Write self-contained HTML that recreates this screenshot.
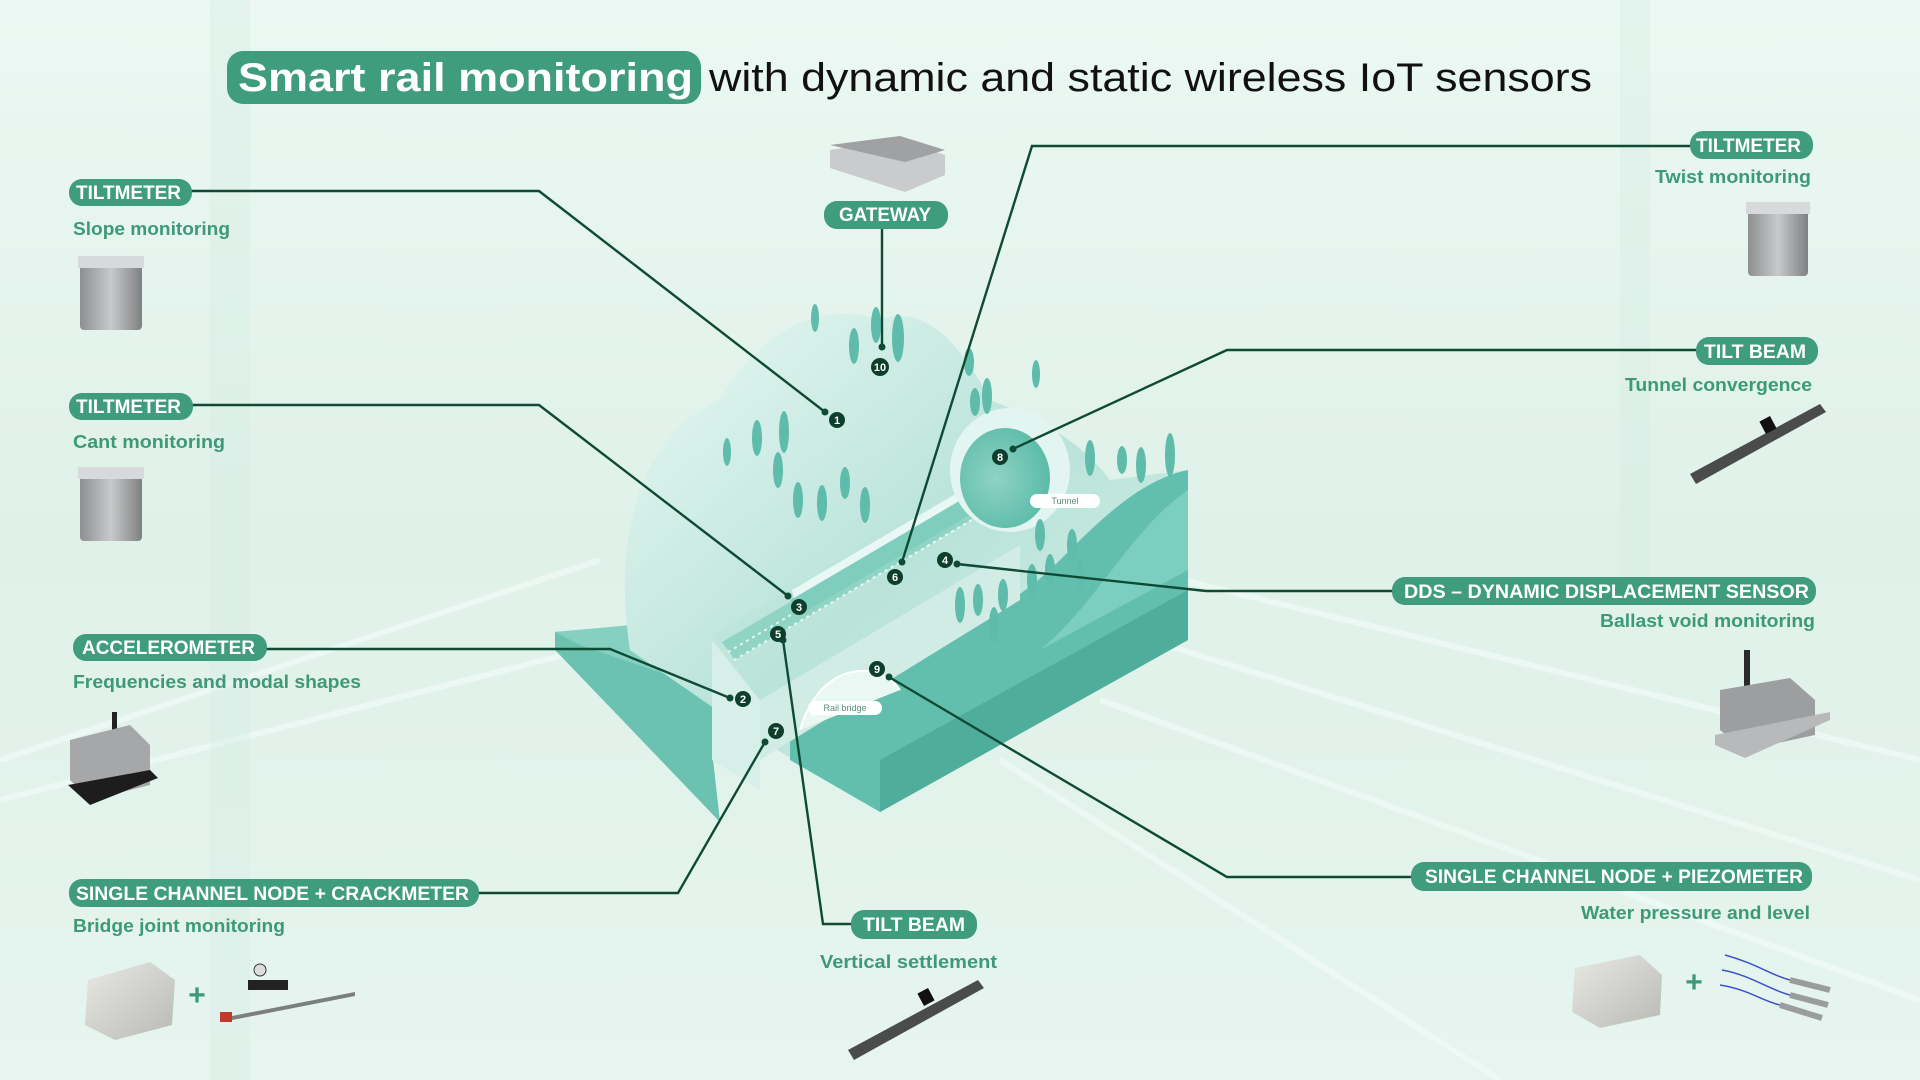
<!DOCTYPE html>
<html><head><meta charset="utf-8"><style>
html,body{margin:0;padding:0;width:1920px;height:1080px;overflow:hidden;background:#e4f4ed}
svg{display:block}
.pill{fill:#3f9c7d}
.pt{font-family:"Liberation Sans",sans-serif;font-weight:bold;fill:#fff;font-size:19px}
.sub{font-family:"Liberation Sans",sans-serif;font-weight:bold;fill:#3d9a79;font-size:18px}
.ln{stroke:#0f4a35;stroke-width:2.4;fill:none}
.num{font-family:"Liberation Sans",sans-serif;font-weight:bold;fill:#fff;font-size:11px;text-anchor:middle}
.tree{fill:#5fbcaa}
</style></head><body>
<svg width="1920" height="1080" viewBox="0 0 1920 1080" xmlns="http://www.w3.org/2000/svg">
<defs>
<linearGradient id="bg" x1="0" y1="0" x2="0" y2="1">
<stop offset="0" stop-color="#ebf8f3"/><stop offset="0.5" stop-color="#dff1e9"/><stop offset="1" stop-color="#e6f5ef"/></linearGradient>
<linearGradient id="mt" x1="0" y1="0" x2="1" y2="1">
<stop offset="0" stop-color="#e9f8f4"/><stop offset="0.5" stop-color="#b9e3d9"/><stop offset="1" stop-color="#d9f1ea"/></linearGradient>
<linearGradient id="gray" x1="0" y1="0" x2="1" y2="0"><stop offset="0" stop-color="#8d8f91"/><stop offset="0.5" stop-color="#c7c9ca"/><stop offset="1" stop-color="#7e8082"/></linearGradient>
<linearGradient id="lg" x1="0" y1="0" x2="1" y2="1"><stop offset="0" stop-color="#e8e8e4"/><stop offset="1" stop-color="#b9bab6"/></linearGradient>
<radialGradient id="tun" cx="0.4" cy="0.5" r="0.6"><stop offset="0" stop-color="#8fd3c4"/><stop offset="1" stop-color="#5cbba8"/></radialGradient>
</defs>
<rect width="1920" height="1080" fill="url(#bg)"/>
<g stroke="#f4fcf9" stroke-width="6" opacity="0.6" fill="none">
<path d="M0,800 L700,620"/><path d="M0,760 L600,560"/><path d="M1150,640 L1920,880"/><path d="M1100,700 L1920,1000"/><path d="M1000,760 L1500,1080"/><path d="M1100,560 L1920,760"/>
</g>
<g fill="#d3ebe1" opacity="0.35"><rect x="210" y="0" width="40" height="1080"/><rect x="1620" y="0" width="30" height="600"/></g>

<!-- Title -->
<rect x="227" y="51" width="474" height="53" rx="16" class="pill"/>
<text x="238" y="91" font-family="Liberation Sans,sans-serif" font-weight="bold" font-size="40" fill="#fff" textLength="455" lengthAdjust="spacingAndGlyphs">Smart rail  monitoring</text>
<text x="709" y="91" font-family="Liberation Sans,sans-serif" font-size="40" fill="#111" textLength="883" lengthAdjust="spacingAndGlyphs">with dynamic and static wireless IoT sensors</text>

<!-- Scene -->
<g>
<polygon points="555,632 690,620 712,700 712,750 720,822 555,650" fill="#6cc2b0"/>
<polygon points="555,632 690,620 712,640 712,690 580,645" fill="#86d0c1"/>
<path d="M630,650 C610,520 650,430 720,400 C760,330 820,300 880,320 C930,300 970,360 990,400 C1040,420 1080,440 1110,480 L1188,470 L1188,620 L880,810 L760,740 Z" fill="url(#mt)"/>
<path d="M1188,470 L1188,640 L880,812 L790,760 L790,700 L870,650 C960,640 1020,600 1060,560 C1100,520 1140,480 1188,470 Z" fill="#63bfad"/>
<path d="M1188,490 C1130,530 1100,600 1040,650 L1188,570 Z" fill="#7ccfbf"/>
<path d="M880,812 L880,760 L1188,590 L1188,640 Z" fill="#4fae9b"/>
<polygon points="712,640 712,760 760,790 760,700" fill="#d6efe8"/>
<polygon points="760,700 1020,545 1020,600 760,760" fill="#d0ece4"/>
<path d="M800,730 C820,660 880,660 900,690" fill="#eaf8f4" stroke="#fff" stroke-width="2"/>
<polygon points="712,635 1010,460 1030,475 730,655" fill="#bde5db"/>
<polygon points="722,642 1015,470 1030,485 735,660" fill="#8fd4c4"/>
<g stroke="#fff" stroke-width="2" opacity="0.8">
<path d="M728,652 L1020,480" stroke-dasharray="3 4"/><path d="M734,660 L1026,488" stroke-dasharray="3 4"/>
</g>
<polygon points="790,600 1010,470 1020,485 800,615" fill="#7fcdbd"/>
<polygon points="792,590 1010,462 1012,470 794,598" fill="#e9f8f4"/>
<ellipse cx="1010" cy="470" rx="60" ry="62" fill="#e3f5f0"/>
<ellipse cx="1005" cy="478" rx="45" ry="50" fill="url(#tun)"/>
<rect x="1030" y="494" width="70" height="14" rx="7" fill="#fff"/>
<text x="1065" y="504" font-family="Liberation Sans,sans-serif" font-size="9" fill="#5b8d80" text-anchor="middle">Tunnel</text>
<rect x="808" y="701" width="74" height="14" rx="7" fill="#fff"/>
<text x="845" y="711" font-family="Liberation Sans,sans-serif" font-size="9" fill="#5b8d80" text-anchor="middle">Rail bridge</text>
<g class="tree">
<ellipse cx="876" cy="325" rx="5" ry="18"/><ellipse cx="898" cy="338" rx="6" ry="24"/><ellipse cx="854" cy="346" rx="5" ry="18"/>
<ellipse cx="727" cy="452" rx="4" ry="14"/><ellipse cx="757" cy="438" rx="5" ry="18"/><ellipse cx="784" cy="432" rx="5" ry="21"/>
<ellipse cx="778" cy="470" rx="5" ry="18"/><ellipse cx="798" cy="500" rx="5" ry="18"/><ellipse cx="822" cy="503" rx="5" ry="18"/>
<ellipse cx="845" cy="483" rx="5" ry="16"/><ellipse cx="865" cy="505" rx="5" ry="18"/><ellipse cx="969" cy="362" rx="5" ry="14"/>
<ellipse cx="975" cy="402" rx="5" ry="14"/><ellipse cx="987" cy="396" rx="5" ry="18"/><ellipse cx="1036" cy="374" rx="4" ry="14"/>
<ellipse cx="1090" cy="458" rx="5" ry="18"/><ellipse cx="1122" cy="460" rx="5" ry="14"/><ellipse cx="1141" cy="465" rx="5" ry="18"/><ellipse cx="1170" cy="455" rx="5" ry="22"/>
<ellipse cx="1040" cy="535" rx="5" ry="16"/><ellipse cx="1072" cy="545" rx="5" ry="16"/><ellipse cx="1032" cy="580" rx="5" ry="16"/>
<ellipse cx="960" cy="605" rx="5" ry="18"/><ellipse cx="978" cy="600" rx="5" ry="16"/><ellipse cx="1003" cy="595" rx="5" ry="16"/>
<ellipse cx="994" cy="625" rx="5" ry="18"/><ellipse cx="1050" cy="570" rx="5" ry="16"/><ellipse cx="1080" cy="575" rx="4" ry="14"/>
<ellipse cx="815" cy="318" rx="4" ry="14"/>
</g>
</g>

<!-- Connectors -->
<path class="ln" d="M191,191 L539,191 L825,412"/>
<path class="ln" d="M192,405 L539,405 L788,596"/>
<path class="ln" d="M266,649 L610,649 L730,698"/>
<path class="ln" d="M478,893 L678,893 L765,742"/>
<path class="ln" d="M882,229 L882,347"/>
<path class="ln" d="M783,640 L823,924 L851,924"/>
<path class="ln" d="M902,562 L1032,146 L1690,146"/>
<path class="ln" d="M1696,350 L1227,350 L1013,449"/>
<path class="ln" d="M1392,591 L1206,591 L957,564"/>
<path class="ln" d="M1411,877 L1227,877 L889,677"/>
<g fill="#0f4a35">
<circle cx="825" cy="412" r="3.5"/><circle cx="788" cy="596" r="3.5"/><circle cx="730" cy="698" r="3.5"/><circle cx="765" cy="742" r="3.5"/>
<circle cx="882" cy="347" r="3.5"/><circle cx="783" cy="640" r="3.5"/><circle cx="902" cy="562" r="3.5"/><circle cx="1013" cy="449" r="3.5"/><circle cx="957" cy="564" r="3.5"/><circle cx="889" cy="677" r="3.5"/>
</g>
<g>
<circle cx="837" cy="420" r="8" fill="#0d3f2c"/><text class="num" x="837" y="424">1</text>
<circle cx="743" cy="699" r="8" fill="#0d3f2c"/><text class="num" x="743" y="703">2</text>
<circle cx="799" cy="607" r="8" fill="#0d3f2c"/><text class="num" x="799" y="611">3</text>
<circle cx="945" cy="560" r="8" fill="#0d3f2c"/><text class="num" x="945" y="564">4</text>
<circle cx="778" cy="634" r="8" fill="#0d3f2c"/><text class="num" x="778" y="638">5</text>
<circle cx="895" cy="577" r="8" fill="#0d3f2c"/><text class="num" x="895" y="581">6</text>
<circle cx="776" cy="731" r="8" fill="#0d3f2c"/><text class="num" x="776" y="735">7</text>
<circle cx="1000" cy="457" r="8" fill="#0d3f2c"/><text class="num" x="1000" y="461">8</text>
<circle cx="877" cy="669" r="8" fill="#0d3f2c"/><text class="num" x="877" y="673">9</text>
<circle cx="880" cy="367" r="9" fill="#0d3f2c"/><text class="num" x="880" y="371" font-size="10">10</text>
</g>

<!-- Labels -->
<rect x="69" y="179" width="123" height="27" rx="13" class="pill"/><text class="pt" x="76" y="199" textLength="105" lengthAdjust="spacingAndGlyphs">TILTMETER</text>
<text class="sub" x="73" y="235" textLength="157" lengthAdjust="spacingAndGlyphs">Slope monitoring</text>
<rect x="69" y="393" width="124" height="27" rx="13" class="pill"/><text class="pt" x="76" y="413" textLength="105" lengthAdjust="spacingAndGlyphs">TILTMETER</text>
<text class="sub" x="73" y="448" textLength="152" lengthAdjust="spacingAndGlyphs">Cant monitoring</text>
<rect x="73" y="634" width="194" height="27" rx="13" class="pill"/><text class="pt" x="82" y="654" textLength="173" lengthAdjust="spacingAndGlyphs">ACCELEROMETER</text>
<text class="sub" x="73" y="688" textLength="288" lengthAdjust="spacingAndGlyphs">Frequencies and modal shapes</text>
<rect x="69" y="879" width="410" height="28" rx="13" class="pill"/><text class="pt" x="76" y="900" textLength="393" lengthAdjust="spacingAndGlyphs">SINGLE CHANNEL NODE + CRACKMETER</text>
<text class="sub" x="73" y="932" textLength="212" lengthAdjust="spacingAndGlyphs">Bridge joint monitoring</text>
<rect x="824" y="201" width="124" height="28" rx="13" class="pill"/><text class="pt" x="839" y="221" textLength="92" lengthAdjust="spacingAndGlyphs">GATEWAY</text>
<rect x="851" y="910" width="126" height="29" rx="13" class="pill"/><text class="pt" x="863" y="931" textLength="102" lengthAdjust="spacingAndGlyphs">TILT BEAM</text>
<text class="sub" x="820" y="968" textLength="177" lengthAdjust="spacingAndGlyphs">Vertical settlement</text>
<rect x="1690" y="131" width="123" height="28" rx="13" class="pill"/><text class="pt" x="1696" y="152" textLength="105" lengthAdjust="spacingAndGlyphs">TILTMETER</text>
<text class="sub" x="1655" y="183" textLength="156" lengthAdjust="spacingAndGlyphs">Twist monitoring</text>
<rect x="1696" y="337" width="122" height="28" rx="13" class="pill"/><text class="pt" x="1704" y="358" textLength="102" lengthAdjust="spacingAndGlyphs">TILT BEAM</text>
<text class="sub" x="1625" y="391" textLength="187" lengthAdjust="spacingAndGlyphs">Tunnel convergence</text>
<rect x="1392" y="577" width="424" height="28" rx="13" class="pill"/><text class="pt" x="1404" y="598" textLength="405" lengthAdjust="spacingAndGlyphs">DDS – DYNAMIC DISPLACEMENT SENSOR</text>
<text class="sub" x="1600" y="627" textLength="215" lengthAdjust="spacingAndGlyphs">Ballast void monitoring</text>
<rect x="1411" y="862" width="401" height="29" rx="13" class="pill"/><text class="pt" x="1425" y="883" textLength="378" lengthAdjust="spacingAndGlyphs">SINGLE CHANNEL NODE + PIEZOMETER</text>
<text class="sub" x="1581" y="919" textLength="229" lengthAdjust="spacingAndGlyphs">Water pressure and level</text>

<!-- Devices -->
<g>
<polygon points="830,150 900,140 945,155 945,175 905,192 830,168" fill="#c9cbcc"/>
<polygon points="830,145 900,136 945,150 905,162" fill="#9fa1a3"/>
<rect x="80" y="262" width="62" height="68" rx="4" fill="url(#gray)"/><rect x="78" y="256" width="66" height="12" fill="#d8d9da"/>
<rect x="80" y="473" width="62" height="68" rx="4" fill="url(#gray)"/><rect x="78" y="467" width="66" height="12" fill="#d8d9da"/>
<rect x="1748" y="208" width="60" height="68" rx="4" fill="url(#gray)"/><rect x="1746" y="202" width="64" height="12" fill="#d8d9da"/>
<rect x="112" y="712" width="5" height="40" fill="#222"/>
<polygon points="70,740 130,725 150,745 150,785 90,800 70,780" fill="#a5a7a8"/>
<polygon points="68,785 150,770 158,778 90,805" fill="#1d1d1d"/>
<rect x="1744" y="650" width="6" height="45" fill="#2a2a2a"/>
<polygon points="1720,690 1790,678 1815,700 1815,735 1745,750 1720,730" fill="#9c9ea0"/>
<polygon points="1715,735 1830,712 1830,720 1745,758 1715,745" fill="#b7b9ba"/>
<polygon points="1690,474 1820,404 1826,412 1696,484" fill="#4a4c4c"/><rect x="1762" y="418" width="12" height="14" fill="#111" transform="rotate(-28 1768 425)"/>
<polygon points="848,1050 978,980 984,988 854,1060" fill="#4a4c4c"/><rect x="920" y="990" width="12" height="14" fill="#111" transform="rotate(-28 926 997)"/>
<polygon points="88,980 150,962 175,980 172,1025 115,1040 85,1025" fill="url(#lg)"/>
<text x="197" y="1005" font-family="Liberation Sans,sans-serif" font-weight="bold" font-size="30" fill="#3d9a79" text-anchor="middle">+</text>
<polygon points="222,1018 355,992 355,996 222,1022" fill="#7c7e80"/><rect x="220" y="1012" width="12" height="10" fill="#c0392b"/>
<rect x="248" y="980" width="40" height="10" fill="#222"/><circle cx="260" cy="970" r="6" fill="#ddd" stroke="#333"/>
<polygon points="1575,968 1640,955 1662,975 1660,1015 1600,1028 1572,1012" fill="url(#lg)"/>
<text x="1694" y="992" font-family="Liberation Sans,sans-serif" font-weight="bold" font-size="30" fill="#3d9a79" text-anchor="middle">+</text>
<g stroke="#3b54c9" stroke-width="1.5" fill="none"><path d="M1725,955 C1760,965 1770,975 1790,980"/><path d="M1722,970 C1750,975 1770,990 1790,995"/><path d="M1720,985 C1750,990 1760,1000 1780,1005"/></g>
<g stroke="#9a9c9e" stroke-width="6"><path d="M1790,980 L1830,990"/><path d="M1790,995 L1828,1005"/><path d="M1780,1005 L1822,1018"/></g>
</g>
</svg>
</body></html>
